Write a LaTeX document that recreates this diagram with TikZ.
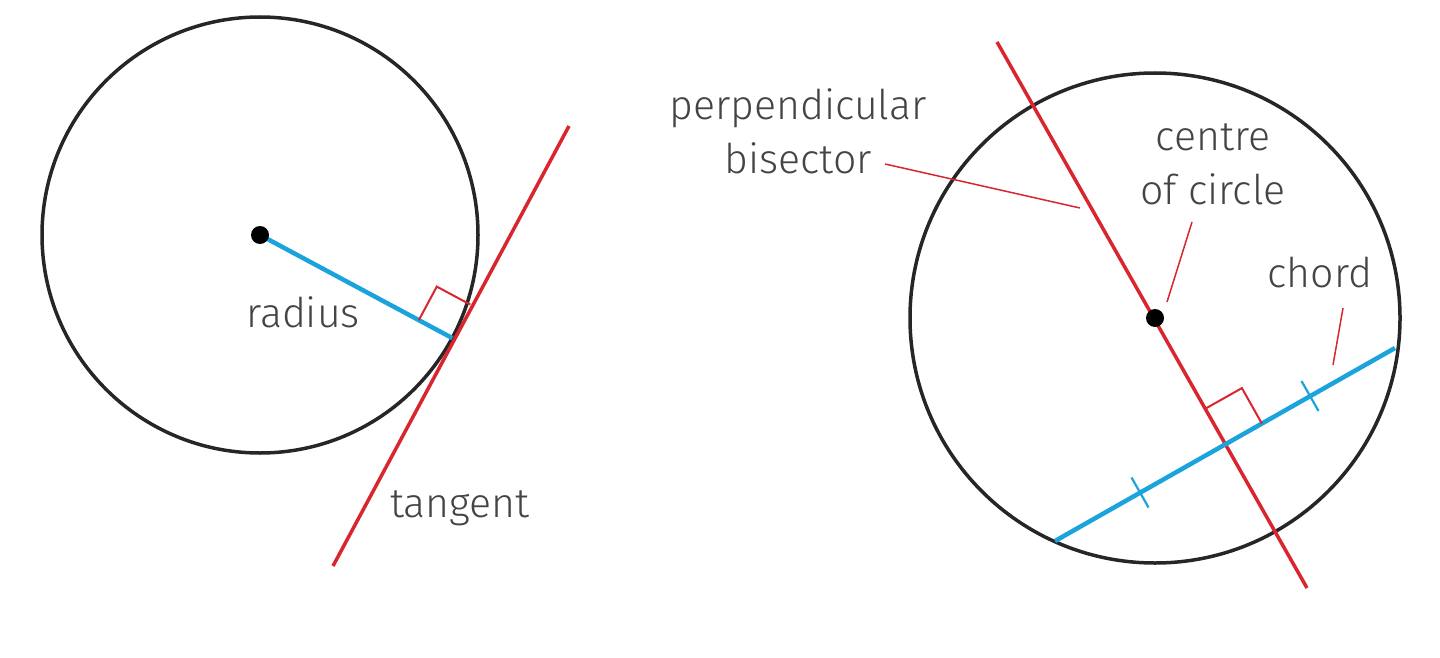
\documentclass[tikz,border=0pt]{standalone}
\usepackage{fontspec}
\setmainfont{Fira Sans Light}
\usetikzlibrary{calc}
\definecolor{cred}{HTML}{D9262E}
\definecolor{cblue}{HTML}{1BA3DC}
\definecolor{ctext}{HTML}{444444}
\begin{document}
\begin{tikzpicture}[x=1pt,y=-1pt,
  circ/.style={draw=black!85,line width=3.5pt},
  redl/.style={draw=cred,line width=3.5pt},
  bluel/.style={draw=cblue,line width=4.5pt},
  rmark/.style={draw=cred,line width=2pt},
  tickl/.style={draw=cblue,line width=2.2pt},
  lead/.style={draw=cred,line width=1.5pt},
  lbl/.style={text=ctext,font=\fontsize{41}{54}\selectfont,align=center,inner sep=0pt}]
\useasboundingbox (0,0) rectangle (1440,658);
% left
\coordinate (C1) at (260,235);
\draw[circ] (C1) circle[radius=218];
\coordinate (T) at (452.3,338.1);
\coordinate (Ta) at (333,566);
\coordinate (Tb) at (569,126);
\draw[redl] (Ta) -- (Tb);
\draw[bluel] (C1) -- (T);
\fill (C1) circle[radius=9];
\draw[rmark] ($(T)+(-33.5,-18)$) -- ++(18,-33.5) -- ($(T)+(18,-33.5)$);
\node[lbl] (rad) at (303,312) {radius};
\node[lbl] (tan) at (460,508) {tangent};
% right
\coordinate (C2) at (1155,318);
\draw[circ] (C2) circle[radius=245];
\coordinate (Ra) at (997,42);
\coordinate (Rb) at (1307,588);
\coordinate (Ba) at (1055,541);
\coordinate (Bb) at (1395,348);
\draw[redl] (Ra) -- (Rb);
\draw[bluel] (Ba) -- (Bb);
\fill (C2) circle[radius=9];
\coordinate (I) at (1226.4,443.6);
\draw[rmark] ($(I)+(-20,-35.5)$) -- ++(35.5,-20) -- ($(I)+(35.5,-20)$);
\coordinate (K1) at (1140,492.5);
\coordinate (K2) at (1310,396);
\draw[tickl] ($(K1)+(-8.5,-15)$) -- ($(K1)+(8.5,15)$);
\draw[tickl] ($(K2)+(-8.5,-15)$) -- ($(K2)+(8.5,15)$);
\node[lbl] (pb) at (798,131) {perpendicular\\bisector};
\node[lbl] (cc) at (1213,164) {centre\\of circle};
\node[lbl] (ch) at (1320,272) {chord};
\coordinate (pbe) at (1080,208);
\coordinate (cce) at (1167,302);
\coordinate (che) at (1333,365);
\draw[lead] (885,164) -- (pbe);
\draw[lead] (1192,222) -- (cce);
\draw[lead] (1343,308) -- (che);
\end{tikzpicture}
\end{document}
